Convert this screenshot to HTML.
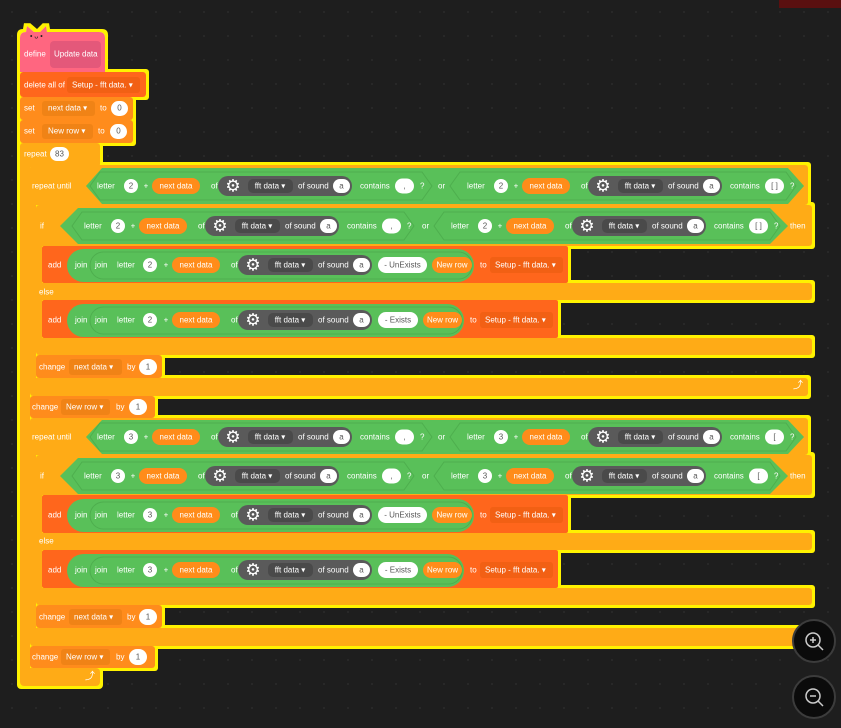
<!DOCTYPE html>
<html><head><meta charset="utf-8"><style>
html,body{margin:0;padding:0;background:#1e1e1e;width:841px;height:728px;overflow:hidden}
svg{display:block}
text{font-family:"Liberation Sans","DejaVu Sans",sans-serif;font-size:8px;fill:#fff;dominant-baseline:central}
.d{fill:#575757}
.m{text-anchor:middle}
</style></head><body>
<svg width="841" height="728" viewBox="0 0 841 728" xmlns="http://www.w3.org/2000/svg">
<defs>
<pattern id="dots" width="24" height="24" patternUnits="userSpaceOnUse"><circle cx="12" cy="12" r="0.8" fill="#333"/></pattern>
<filter id="glow" x="-5%" y="-5%" width="110%" height="110%">
<feMorphology in="SourceAlpha" operator="dilate" radius="3" result="d"/>
<feFlood flood-color="#fff200"/>
<feComposite in2="d" operator="in" result="y"/>
<feMerge><feMergeNode in="y"/><feMergeNode in="SourceGraphic"/></feMerge>
</filter>
<g id="core">
<text x="0" y="0">letter</text>
<text x="49" y="0" class="m">+</text>
<rect x="55" y="-8" width="48" height="16" rx="8" fill="#ff8c1a"/>
<text x="79" y="0" class="m">next data</text>
<text x="114" y="0">of</text>
<rect x="121" y="-10" width="134" height="20" rx="10" fill="#5a5a5a"/>
<text x="136" y="0" class="m" style="font-size:17px">⚙</text>
<rect x="151" y="-7" width="45" height="14" rx="5" fill="#4a4a4a"/>
<text x="173" y="0" class="m">fft data ▾</text>
<text x="201" y="0">of sound</text>
<rect x="236" y="-7" width="17" height="14" rx="7" fill="#fff"/>
<text x="244.5" y="0" class="m d">a</text>
</g>
<g id="cl">
<use href="#core"/>
<text x="263" y="0">contains</text>
<rect x="298" y="-7.5" width="19" height="15" rx="7.5" fill="#fff"/>
<text x="323" y="0">?</text>
</g>
</defs>
<rect width="841" height="728" fill="#1e1e1e"/>
<rect width="841" height="728" fill="url(#dots)"/>
<rect x="779" y="0" width="62" height="8" fill="#5a1010"/>

<g filter="url(#glow)">
<path d="M20 38 Q20 32 26 32 L27 26 L34 32 L40 32 L46 26 L47 32 L99 32 Q105 32 105 38 L105 72 L20 72 Z" fill="#ff6680"/>
<rect x="20" y="72" width="126" height="25" rx="3" fill="#ff661a"/>
<rect x="20" y="97" width="113" height="23" rx="3" fill="#ff8c1a"/>
<rect x="20" y="120" width="113" height="23" rx="3" fill="#ff8c1a"/>
<rect x="20" y="143" width="80" height="24" rx="3" fill="#ffab19"/>
<rect x="20" y="160" width="10" height="515" fill="#ffab19"/>
<rect x="20" y="668" width="80" height="18" rx="4" fill="#ffab19"/>
<!-- RU1 -->
<rect x="30" y="165" width="778" height="40" rx="3" fill="#ffab19"/>
<rect x="30" y="200" width="6" height="185" fill="#ffab19"/>
<rect x="30" y="378" width="778" height="18" rx="3" fill="#ffab19"/>
<rect x="36" y="205" width="776" height="41" rx="3" fill="#ffab19"/>
<rect x="36" y="240" width="6" height="105" fill="#ffab19"/>
<rect x="36" y="283" width="776" height="17" rx="3" fill="#ffab19"/>
<rect x="36" y="338" width="776" height="17" rx="3" fill="#ffab19"/>
<rect x="42" y="246" width="526" height="37" rx="2" fill="#ff661a"/>
<rect x="42" y="300" width="516" height="38" rx="2" fill="#ff661a"/>
<rect x="36" y="355" width="126" height="23" rx="3" fill="#ff8c1a"/>
<rect x="30" y="396" width="125" height="22" rx="3" fill="#ff8c1a"/>
<!-- RU2 -->
<rect x="30" y="418" width="778" height="37" rx="3" fill="#ffab19"/>
<rect x="30" y="450" width="6" height="185" fill="#ffab19"/>
<rect x="30" y="628" width="778" height="18" rx="3" fill="#ffab19"/>
<rect x="36" y="455" width="776" height="40" rx="3" fill="#ffab19"/>
<rect x="36" y="490" width="6" height="105" fill="#ffab19"/>
<rect x="36" y="533" width="776" height="17" rx="3" fill="#ffab19"/>
<rect x="36" y="588" width="776" height="17" rx="3" fill="#ffab19"/>
<rect x="42" y="495" width="526" height="38" rx="2" fill="#ff661a"/>
<rect x="42" y="550" width="516" height="38" rx="2" fill="#ff661a"/>
<rect x="36" y="605" width="126" height="23" rx="3" fill="#ff8c1a"/>
<rect x="30" y="646" width="125" height="22" rx="3" fill="#ff8c1a"/>
</g>

<!-- define -->
<rect x="50" y="41" width="51" height="27" rx="4" fill="#e4587a"/>
<text x="30" y="37" style="font-size:7px;fill:#222">• ᴗ •</text>
<text x="24" y="54">define</text>
<text x="54" y="54">Update data</text>
<!-- delete/set/repeat -->
<text x="24" y="85">delete all of</text>
<rect x="67" y="77" width="73" height="16" rx="3" fill="#f26014"/>
<text x="72" y="85">Setup - fft data. ▾</text>
<text x="24" y="108">set</text>
<rect x="42" y="101" width="53" height="15" rx="3" fill="#f08316"/>
<text x="48" y="108">next data ▾</text>
<text x="100" y="108">to</text>
<rect x="111" y="101" width="17" height="15" rx="7.5" fill="#fff"/><text x="119.5" y="108" class="m d">0</text>
<text x="24" y="131">set</text>
<rect x="42" y="124" width="51" height="15" rx="3" fill="#f08316"/>
<text x="48" y="131">New row ▾</text>
<text x="98" y="131">to</text>
<rect x="110" y="124" width="17" height="15" rx="7.5" fill="#fff"/><text x="118.5" y="131" class="m d">0</text>
<text x="24" y="154">repeat</text>
<rect x="50" y="147" width="19" height="14" rx="7" fill="#fff"/><text x="59.5" y="154" class="m d">83</text>

<!-- RU1 row -->
<text x="32" y="186">repeat until</text>
<polygon points="86,186 102,168 788,168 804,186 788,204 102,204" fill="#59c059"/>
<polygon points="90,186 100,172 422,172 432,186 422,200 100,200" fill="none" stroke="#4eae4e"/>
<polygon points="450,186 460,172 786,172 796,186 786,200 460,200" fill="none" stroke="#4eae4e"/>
<use href="#cl" x="97" y="186"/>
<rect x="124" y="179" width="14" height="14" rx="7" fill="#fff"/><text x="131" y="186" class="m d">2</text>
<text x="404.5" y="186" class="m d">,</text>
<text x="438" y="186">or</text>
<use href="#cl" x="467" y="186"/>
<rect x="494" y="179" width="14" height="14" rx="7" fill="#fff"/><text x="501" y="186" class="m d">2</text>
<text x="774.5" y="186" class="m d">[ ]</text>

<!-- IF1 row -->
<text x="40" y="226">if</text>
<polygon points="60,226 78,208 770,208 788,226 770,244 78,244" fill="#59c059"/>
<polygon points="72,226 82,212 404,212 414,226 404,240 82,240" fill="none" stroke="#4eae4e"/>
<polygon points="434,226 444,212 770,212 780,226 770,240 444,240" fill="none" stroke="#4eae4e"/>
<use href="#cl" x="84" y="226"/>
<rect x="111" y="219" width="14" height="14" rx="7" fill="#fff"/><text x="118" y="226" class="m d">2</text>
<text x="391.5" y="226" class="m d">,</text>
<text x="422" y="226">or</text>
<use href="#cl" x="451" y="226"/>
<rect x="478" y="219" width="14" height="14" rx="7" fill="#fff"/><text x="485" y="226" class="m d">2</text>
<text x="758.5" y="226" class="m d">[ ]</text>
<text x="790" y="226">then</text>

<!-- ADD1 -->
<text x="48" y="265">add</text>
<rect x="67" y="249" width="407" height="33" rx="16.5" fill="#59c059"/>
<rect x="90" y="252" width="382" height="27" rx="13.5" fill="none" stroke="#4eae4e"/>
<text x="75" y="265">join</text><text x="95" y="265">join</text>
<use href="#core" x="117" y="265"/>
<rect x="143" y="258" width="14" height="14" rx="7" fill="#fff"/><text x="150" y="265" class="m d">2</text>
<rect x="378" y="257" width="49" height="16" rx="8" fill="#fff"/><text x="402.5" y="265" class="m d">- UnExists</text>
<rect x="432" y="257" width="40" height="16" rx="8" fill="#ff8c1a"/><text x="452" y="265" class="m">New row</text>
<text x="480" y="265">to</text>
<rect x="490" y="257" width="73" height="16" rx="3" fill="#f26014"/><text x="495" y="265">Setup - fft data. ▾</text>
<text x="39" y="292">else</text>
<!-- ADD2 -->
<text x="48" y="320">add</text>
<rect x="67" y="304" width="397" height="33" rx="16.5" fill="#59c059"/>
<rect x="90" y="307" width="372" height="27" rx="13.5" fill="none" stroke="#4eae4e"/>
<text x="75" y="320">join</text><text x="95" y="320">join</text>
<use href="#core" x="117" y="320"/>
<rect x="143" y="313" width="14" height="14" rx="7" fill="#fff"/><text x="150" y="320" class="m d">2</text>
<rect x="378" y="312" width="40" height="16" rx="8" fill="#fff"/><text x="398" y="320" class="m d">- Exists</text>
<rect x="423" y="312" width="39" height="16" rx="8" fill="#ff8c1a"/><text x="442.5" y="320" class="m">New row</text>
<text x="470" y="320">to</text>
<rect x="480" y="312" width="73" height="16" rx="3" fill="#f26014"/><text x="485" y="320">Setup - fft data. ▾</text>
<!-- change -->
<text x="39" y="367">change</text>
<rect x="69" y="359" width="53" height="16" rx="3" fill="#f08316"/><text x="74" y="367">next data ▾</text>
<text x="127" y="367">by</text>
<rect x="139" y="359" width="18" height="16" rx="8" fill="#fff"/><text x="148" y="367" class="m d">1</text>
<text x="793" y="386" style="font-size:10px">⤴</text>
<text x="32" y="407">change</text>
<rect x="61" y="399" width="49" height="16" rx="3" fill="#f08316"/><text x="66" y="407">New row ▾</text>
<text x="116" y="407">by</text>
<rect x="129" y="399" width="18" height="16" rx="8" fill="#fff"/><text x="138" y="407" class="m d">1</text>

<!-- RU2 row -->
<text x="32" y="437">repeat until</text>
<polygon points="86,437 102,420 788,420 804,437 788,454 102,454" fill="#59c059"/>
<polygon points="90,437 100,423 422,423 432,437 422,451 100,451" fill="none" stroke="#4eae4e"/>
<polygon points="450,437 460,423 786,423 796,437 786,451 460,451" fill="none" stroke="#4eae4e"/>
<use href="#cl" x="97" y="437"/>
<rect x="124" y="430" width="14" height="14" rx="7" fill="#fff"/><text x="131" y="437" class="m d">3</text>
<text x="404.5" y="437" class="m d">,</text>
<text x="438" y="437">or</text>
<use href="#cl" x="467" y="437"/>
<rect x="494" y="430" width="14" height="14" rx="7" fill="#fff"/><text x="501" y="437" class="m d">3</text>
<text x="774.5" y="437" class="m d">[</text>

<!-- IF2 row -->
<text x="40" y="476">if</text>
<polygon points="60,476 78,458 770,458 788,476 770,494 78,494" fill="#59c059"/>
<polygon points="72,476 82,462 404,462 414,476 404,490 82,490" fill="none" stroke="#4eae4e"/>
<polygon points="434,476 444,462 770,462 780,476 770,490 444,490" fill="none" stroke="#4eae4e"/>
<use href="#cl" x="84" y="476"/>
<rect x="111" y="469" width="14" height="14" rx="7" fill="#fff"/><text x="118" y="476" class="m d">3</text>
<text x="391.5" y="476" class="m d">,</text>
<text x="422" y="476">or</text>
<use href="#cl" x="451" y="476"/>
<rect x="478" y="469" width="14" height="14" rx="7" fill="#fff"/><text x="485" y="476" class="m d">3</text>
<text x="758.5" y="476" class="m d">[</text>
<text x="790" y="476">then</text>

<!-- ADD3 -->
<text x="48" y="515">add</text>
<rect x="67" y="499" width="407" height="33" rx="16.5" fill="#59c059"/>
<rect x="90" y="502" width="382" height="27" rx="13.5" fill="none" stroke="#4eae4e"/>
<text x="75" y="515">join</text><text x="95" y="515">join</text>
<use href="#core" x="117" y="515"/>
<rect x="143" y="508" width="14" height="14" rx="7" fill="#fff"/><text x="150" y="515" class="m d">3</text>
<rect x="378" y="507" width="49" height="16" rx="8" fill="#fff"/><text x="402.5" y="515" class="m d">- UnExists</text>
<rect x="432" y="507" width="40" height="16" rx="8" fill="#ff8c1a"/><text x="452" y="515" class="m">New row</text>
<text x="480" y="515">to</text>
<rect x="490" y="507" width="73" height="16" rx="3" fill="#f26014"/><text x="495" y="515">Setup - fft data. ▾</text>
<text x="39" y="541">else</text>
<!-- ADD4 -->
<text x="48" y="570">add</text>
<rect x="67" y="554" width="397" height="33" rx="16.5" fill="#59c059"/>
<rect x="90" y="557" width="372" height="27" rx="13.5" fill="none" stroke="#4eae4e"/>
<text x="75" y="570">join</text><text x="95" y="570">join</text>
<use href="#core" x="117" y="570"/>
<rect x="143" y="563" width="14" height="14" rx="7" fill="#fff"/><text x="150" y="570" class="m d">3</text>
<rect x="378" y="562" width="40" height="16" rx="8" fill="#fff"/><text x="398" y="570" class="m d">- Exists</text>
<rect x="423" y="562" width="39" height="16" rx="8" fill="#ff8c1a"/><text x="442.5" y="570" class="m">New row</text>
<text x="470" y="570">to</text>
<rect x="480" y="562" width="73" height="16" rx="3" fill="#f26014"/><text x="485" y="570">Setup - fft data. ▾</text>
<!-- change 2 -->
<text x="39" y="617">change</text>
<rect x="69" y="609" width="53" height="16" rx="3" fill="#f08316"/><text x="74" y="617">next data ▾</text>
<text x="127" y="617">by</text>
<rect x="139" y="609" width="18" height="16" rx="8" fill="#fff"/><text x="148" y="617" class="m d">1</text>
<text x="32" y="657">change</text>
<rect x="61" y="649" width="49" height="16" rx="3" fill="#f08316"/><text x="66" y="657">New row ▾</text>
<text x="116" y="657">by</text>
<rect x="129" y="649" width="18" height="16" rx="8" fill="#fff"/><text x="138" y="657" class="m d">1</text>
<text x="85" y="677" style="font-size:10px">⤴</text>

<!-- zoom buttons -->
<circle cx="814" cy="641" r="21" fill="#0b0b0b" stroke="#3c3c3c" stroke-width="2"/>
<circle cx="813" cy="640" r="7" fill="none" stroke="#ccc" stroke-width="1.5"/>
<line x1="818" y1="645" x2="823" y2="650" stroke="#ccc" stroke-width="1.5"/>
<line x1="810" y1="640" x2="816" y2="640" stroke="#ccc" stroke-width="1.5"/>
<line x1="813" y1="637" x2="813" y2="643" stroke="#ccc" stroke-width="1.5"/>
<circle cx="814" cy="697" r="21" fill="#0b0b0b" stroke="#3c3c3c" stroke-width="2"/>
<circle cx="813" cy="696" r="7" fill="none" stroke="#ccc" stroke-width="1.5"/>
<line x1="818" y1="701" x2="823" y2="706" stroke="#ccc" stroke-width="1.5"/>
<line x1="810" y1="696" x2="816" y2="696" stroke="#ccc" stroke-width="1.5"/>
</svg>
</body></html>
